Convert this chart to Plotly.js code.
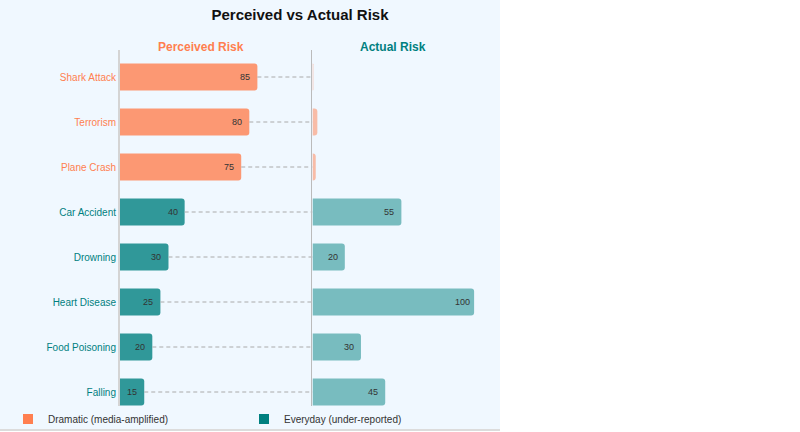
<!DOCTYPE html>
<html>
<head>
<meta charset="utf-8">
<script src="https://cdn.plot.ly/plotly-3.0.1.min.js"></script>
<style>
  html, body { margin: 0; padding: 0; background: #ffffff; overflow: hidden; }
  #chart { width: 500px; height: 429px; border-bottom: 2px solid #dcdcdc; }
</style>
</head>
<body>
<div id="chart"></div>
<script>
// ---- data ----
const categories = ['Shark Attack', 'Terrorism', 'Plane Crash', 'Car Accident', 'Drowning', 'Heart Disease', 'Food Poisoning', 'Falling'];
const groups = ['Dramatic', 'Dramatic', 'Dramatic', 'Everyday', 'Everyday', 'Everyday', 'Everyday', 'Everyday'];
const perceived = [85, 80, 75, 40, 30, 25, 20, 15];
const actual = [0.5, 3, 2, 55, 20, 100, 30, 45];
const legendNames = ['Dramatic (media-amplified)', 'Everyday (under-reported)'];
const panelTitles = ['Perceived Risk', 'Actual Risk'];
const scaleMax = 100;

// ---- styles ----
const CORAL = '#ff7f50', TEAL = '#008080';
const groupColor = g => g === 'Dramatic' ? CORAL : TEAL;
const rgba = (hex, a) => {
  const n = parseInt(hex.slice(1), 16);
  return `rgba(${(n >> 16) & 255},${(n >> 8) & 255},${n & 255},${a})`;
};
const FONT = 'Liberation Sans, Arial, Helvetica, sans-serif';

const leftEnd = 0.5347;            // domain end of the left panel == zero of the right panel
const leftRange = 119.1;
const rightRange = 103.65;

const perceivedTrace = {
  type: 'bar', orientation: 'h', x: perceived, y: categories,
  xaxis: 'x', yaxis: 'y', showlegend: false, hoverinfo: 'x+y',
  marker: { color: groups.map(g => rgba(groupColor(g), 0.8)), cornerradius: 3, line: { width: 0 } }
};
const actualTrace = {
  type: 'bar', orientation: 'h', x: actual, y: categories,
  xaxis: 'x2', yaxis: 'y2', showlegend: false, hoverinfo: 'x+y',
  marker: { color: groups.map(g => rgba(groupColor(g), 0.5)), cornerradius: 3, line: { width: 0 } }
};

// dashed connectors from perceived bar end to the actual panel baseline
const connX = [], connY = [];
categories.forEach((c, i) => { connX.push(perceived[i], leftRange, null); connY.push(c, c, null); });
const connTrace = {
  type: 'scatter', mode: 'lines', x: connX, y: connY, xaxis: 'x', yaxis: 'y',
  line: { color: '#aaaaaa', width: 1, dash: '4px,3px' }, showlegend: false, hoverinfo: 'skip'
};

const legendTraces = legendNames.map((n, k) => ({
  type: 'scatter', mode: 'markers', x: [null], y: [null], name: n,
  xaxis: 'x', yaxis: 'y',
  marker: { symbol: 'square', size: 10, color: k === 0 ? CORAL : TEAL, line: { width: 0 } }
}));

const annotations = [];
categories.forEach((c, i) => {
  annotations.push({ x: perceived[i], y: c, xref: 'x', yref: 'y', text: String(perceived[i]),
    showarrow: false, xanchor: 'center', xshift: -12, font: { size: 9, color: '#333333', family: FONT } });
  if (groups[i] === 'Everyday') {
    annotations.push({ x: actual[i], y: c, xref: 'x2', yref: 'y2', text: String(actual[i]),
      showarrow: false, xanchor: 'center', xshift: -12, font: { size: 9, color: '#333333', family: FONT } });
  }
});
panelTitles.forEach((t, k) => {
  annotations.push({ x: scaleMax / 2, y: 1, xref: k === 0 ? 'x' : 'x2', yref: 'paper', yanchor: 'middle', yshift: 3,
    text: '<b>' + t + '</b>', showarrow: false, font: { size: 12, color: k === 0 ? CORAL : TEAL, family: FONT } });
});

const layout = {
  width: 500, height: 429,
  paper_bgcolor: '#f0f8ff', plot_bgcolor: '#f0f8ff',
  font: { family: FONT, size: 10, color: '#333333' },
  title: { text: '<b>Perceived vs Actual Risk</b>', x: 0.5, xref: 'paper', y: 1 - 15 / 429, yref: 'container', yanchor: 'middle',
    font: { size: 15, color: '#111111', family: FONT } },
  margin: { l: 120, r: 20, t: 50, b: 23, autoexpand: false },
  bargap: 0.4,
  xaxis: { domain: [0, leftEnd], range: [0, leftRange], showgrid: false, zeroline: false, showticklabels: false, showline: false, fixedrange: true },
  xaxis2: { domain: [leftEnd, 1], range: [0, rightRange], showgrid: false, zeroline: false, showticklabels: false, showline: false, anchor: 'y2', fixedrange: true },
  yaxis: {
    type: 'category', categoryorder: 'array', categoryarray: categories,
    range: [7.311, -0.6], tickvals: categories,
    ticktext: categories.map((c, i) => `<span style="color:${groupColor(groups[i])}">${c}</span>`),
    showgrid: false, zeroline: false, ticks: '', showline: true, linecolor: '#d4d4d4', linewidth: 2,
    tickfont: { size: 10, family: FONT }, anchor: 'x', fixedrange: true, automargin: false
  },
  yaxis2: { matches: 'y', anchor: 'x2', showticklabels: false, showgrid: false, zeroline: false, ticks: '',
    showline: true, linecolor: '#bbbbbb', linewidth: 1, type: 'category', categoryorder: 'array', categoryarray: categories, fixedrange: true },
  showlegend: true,
  legend: { orientation: 'h', x: (8 - 120) / 360, xanchor: 'left', y: -(419 - 406) / 356, yanchor: 'middle',
    entrywidth: 191, entrywidthmode: 'pixels', bgcolor: 'rgba(0,0,0,0)', font: { size: 10, color: '#333333', family: FONT } },
  annotations: annotations
};

Plotly.newPlot('chart', [perceivedTrace, actualTrace, connTrace].concat(legendTraces), layout, { displayModeBar: false, staticPlot: false });
</script>
</body>
</html>
